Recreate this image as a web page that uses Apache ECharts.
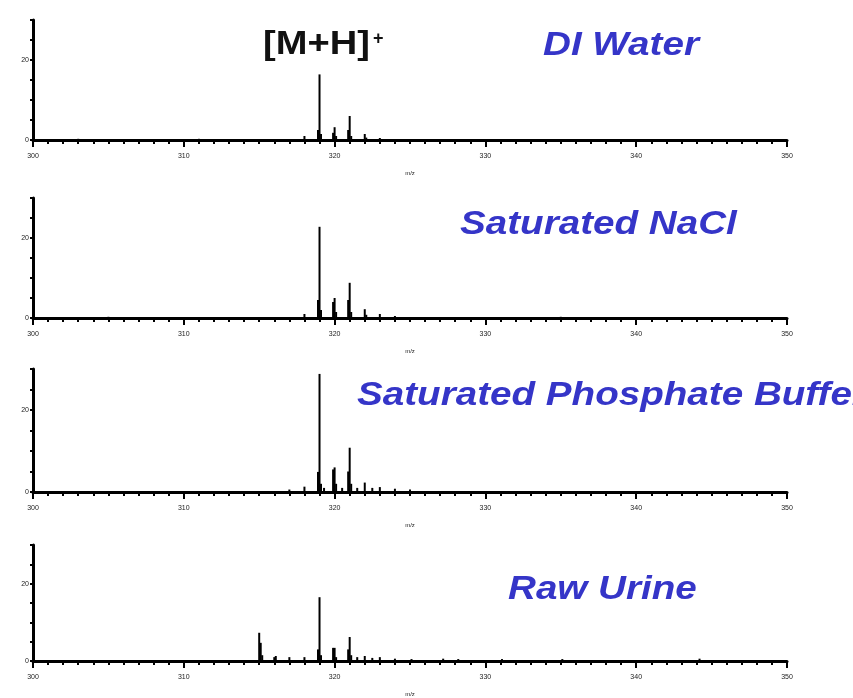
<!DOCTYPE html>
<html>
<head>
<meta charset="utf-8">
<script src="https://cdn.jsdelivr.net/npm/echarts@6/dist/echarts.min.js"></script>
<style>html,body{margin:0;padding:0;background:#fff}#c{width:853px;height:698px}</style>
</head>
<body>
<div id="c"></div>
<script>
// ---- data (m/z, intensity) ----
var xTicks = [300, 310, 320, 330, 340, 350];
var yLabels = [0, 20];
var panelNames = ['DI Water', 'Saturated NaCl', 'Saturated Phosphate Buffer', 'Raw Urine'];
var ionLabel = '[M+H]';

var mzDI = [303.0, 311.0, 318.0, 318.9, 319.0, 319.1, 319.9, 320.0, 320.1, 320.9, 321.0, 321.1, 322.0, 322.1, 323.0];
var intDI = [0.3, 0.3, 1.0, 2.5, 16.4, 1.5, 1.8, 3.2, 1.0, 2.5, 6.0, 1.0, 1.5, 0.6, 0.5];

var mzNaCl = [305.0, 318.0, 318.9, 319.0, 319.1, 319.9, 320.0, 320.1, 320.9, 321.0, 321.1, 322.0, 322.1, 323.0, 324.0, 335.0];
var intNaCl = [0.3, 1.0, 4.5, 22.8, 2.0, 4.0, 5.0, 1.5, 4.5, 8.8, 1.5, 2.2, 0.8, 1.0, 0.5, 0.3];

var mzPB = [317.0, 318.0, 318.9, 319.0, 319.1, 319.3, 319.9, 320.0, 320.1, 320.5, 320.9, 321.0, 321.1, 321.5, 322.0, 322.5, 323.0, 324.0, 325.0];
var intPB = [0.6, 1.3, 4.9, 28.8, 2.0, 1.0, 5.5, 6.0, 2.0, 1.0, 5.0, 10.8, 2.0, 1.0, 2.3, 1.0, 1.2, 0.8, 0.6];

var mzUrine = [315.0, 315.1, 315.2, 316.0, 316.1, 317.0, 318.0, 318.9, 319.0, 319.1, 319.9, 320.0, 320.1, 320.9, 321.0, 321.1, 321.5, 322.0, 322.5, 323.0, 324.0, 325.1, 327.2, 328.2, 331.1, 335.1, 344.2];
var intUrine = [7.3, 4.7, 1.5, 1.0, 1.3, 1.0, 1.0, 3.0, 16.5, 1.5, 3.4, 3.4, 1.0, 3.0, 6.2, 1.5, 1.0, 1.3, 0.8, 1.0, 0.6, 0.5, 0.6, 0.5, 0.5, 0.5, 0.6];

var panelMz = [mzDI, mzNaCl, mzPB, mzUrine];
var panelInt = [intDI, intNaCl, intPB, intUrine];

// ---- layout ----
var grids = [
  {left: 33, right: 66, top: 20, height: 120},
  {left: 33, right: 66, top: 198, height: 120},
  {left: 33, right: 66, top: 369, height: 123},
  {left: 33, right: 66, top: 545, height: 121}
];

var xAxes = [], yAxes = [], series = [];
for (var i = 0; i < 4; i++) {
  xAxes.push({
    type: 'value', gridIndex: i, min: 300, max: 350, interval: 10,
    name: 'm/z', nameLocation: 'middle', nameGap: 30,
    nameTextStyle: {fontSize: 6, color: '#222', fontFamily: 'Liberation Sans'},
    axisLine: {show: true, lineStyle: {color: '#000', width: 3}},
    axisTick: {show: true, length: 7, lineStyle: {color: '#000', width: 2}},
    minorTick: {show: true, splitNumber: 10, length: 4, lineStyle: {color: '#000', width: 2}},
    splitLine: {show: false},
    axisLabel: {fontSize: 7, color: '#222', margin: 13, fontFamily: 'Liberation Sans',
      formatter: function (v) { return xTicks.indexOf(v) >= 0 ? String(v) : ''; }}
  });
  yAxes.push({
    type: 'value', gridIndex: i, min: 0, max: 30, interval: 5,
    axisLine: {show: true, lineStyle: {color: '#000', width: 3}},
    axisTick: {show: true, length: 3, lineStyle: {color: '#000', width: 2}},
    splitLine: {show: false},
    axisLabel: {fontSize: 7, color: '#222', margin: 4, fontFamily: 'Liberation Sans',
      formatter: function (v) { return yLabels.indexOf(v) >= 0 ? String(v) : ''; }}
  });
  var d = [];
  for (var k = 0; k < panelMz[i].length; k++) d.push([panelMz[i][k], panelInt[i][k]]);
  series.push({
    type: 'bar', xAxisIndex: i, yAxisIndex: i, data: d, barWidth: 2,
    itemStyle: {color: '#000'}, animation: false, silent: true
  });
}

var titleFont = 'italic bold 33px "Liberation Sans", Arial, sans-serif';
var blue = '#3535c8';
function label(txt, x, y) {
  return {type: 'text', x: x, y: y, scaleX: 1.17, style: {text: txt, font: titleFont, fill: blue, textAlign: 'left', textVerticalAlign: 'middle'}};
}

var chart = echarts.init(document.getElementById('c'), null, {renderer: 'canvas'});
chart.setOption({
  backgroundColor: '#fff',
  animation: false,
  grid: grids,
  xAxis: xAxes,
  yAxis: yAxes,
  series: series,
  graphic: [
    {type: 'text', x: 263, y: 45, scaleX: 1.12, style: {text: ionLabel, font: 'bold 34px "Liberation Sans", Arial, sans-serif', fill: '#111', textAlign: 'left', textVerticalAlign: 'middle'}},
    {type: 'text', x: 373, y: 39, style: {text: '+', font: 'bold 18px "Liberation Sans", Arial, sans-serif', fill: '#111', textAlign: 'left', textVerticalAlign: 'middle'}},
    label(panelNames[0], 543, 46),
    label(panelNames[1], 460, 225),
    label(panelNames[2], 357, 396),
    label(panelNames[3], 508, 590)
  ]
});
</script>
</body>
</html>
